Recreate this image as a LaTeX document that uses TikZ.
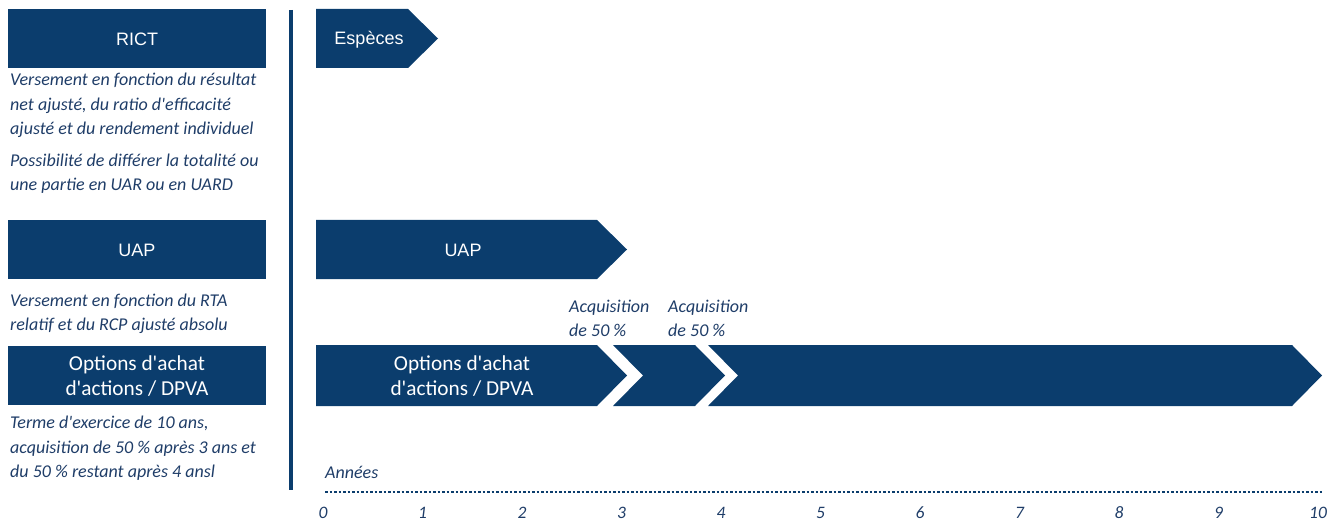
\documentclass[tikz,border=0pt]{standalone}
\usepackage{fontspec}
\setmainfont{Carlito}
\newfontfamily\arialfont{Liberation Sans}
\usetikzlibrary{calc}
\definecolor{barblue}{HTML}{0B3D6D}
\definecolor{noteblue}{HTML}{1F3D68}
\newcommand\apos{\textquotesingle}
\tikzset{
  bar/.style={fill=barblue,draw=none},
  headtext/.style={text=white,font=\arialfont\fontsize{18}{22}\selectfont},
  bartext/.style={text=white,align=center,font=\fontsize{21.3}{25}\selectfont},
  note/.style={text=noteblue,align=left,inner sep=0pt,anchor=base west,
    font=\itshape\fontsize{18}{24.3}\selectfont},
  yeartext/.style={text=noteblue,inner sep=0pt,anchor=base,
    font=\itshape\fontsize{17.5}{20}\selectfont}
}
\begin{document}
\begin{tikzpicture}[x=1pt,y=-1pt]
  \useasboundingbox (0,0) rectangle (1343,521);
  % left column (note nodes sit on the baseline of their last line)
  \draw[bar] (8,9) rectangle (266,68);
  \node[headtext] (rict) at (137,39) {RICT};
  \node[note] (rictnote) at (10,134.5) {Versement en fonction du résultat\\net ajusté, du ratio d\apos efficacité\\ajusté et du rendement individuel};
  \node[note] (rictdefer) at (10,191) {Possibilité de différer la totalité ou\\une partie en UAR ou en UARD};
  \draw[bar] (8,220) rectangle (266,279);
  \node[headtext] (uap) at (137,250) {UAP};
  \node[note] (uapnote) at (10,330.5) {Versement en fonction du RTA\\relatif et du RCP ajusté absolu};
  \draw[bar] (8,346) rectangle (266,405);
  \node[bartext] (opt) at (137,376) {Options d\apos achat\\d\apos actions / DPVA};
  \node[note] (optnote) at (10,477.5) {Terme d\apos exercice de 10 ans,\\acquisition de 50 \% après 3 ans et\\du 50 \% restant après 4 ansl};
  % separator
  \draw[barblue,line width=4pt] (291,10) -- (291,490);
  % timeline arrows
  \draw[bar] (316,9) -- (408,9) -- (438,38.5) -- (408,68) -- (316,68) -- cycle;
  \node[headtext] (cash) at (369,40) {Espèces};
  \draw[bar] (316,220) -- (597,220) -- (627,249.5) -- (597,279) -- (316,279) -- cycle;
  \node[headtext] (uapbar) at (463,250) {UAP};
  \draw[bar] (316,345) -- (597,345) -- (627,375.5) -- (597,406) -- (316,406) -- cycle;
  \draw[bar] (613,345) -- (695,345) -- (725,375.5) -- (695,406) -- (613,406) -- (643,375.5) -- cycle;
  \draw[bar] (708,345) -- (1292,345) -- (1322,375.5) -- (1292,406) -- (708,406) -- (738,375.5) -- cycle;
  \node[bartext] (optbar) at (462,376) {Options d\apos achat\\d\apos actions / DPVA};
  \node[note] (vest1) at (569,336.5) {Acquisition\\de 50 \%};
  \node[note] (vest2) at (668,336.5) {Acquisition\\de 50 \%};
  % years axis
  \node[note] (years) at (325,478) {Années};
  \coordinate (axisstart) at (325,492);
  \coordinate (axisend) at (1322,492);
  \draw[barblue,line width=2.5pt,dash pattern=on 2.5pt off 2pt] (axisstart) -- (axisend);
  \foreach \y in {0,...,10}
    \node[yeartext] (yr\y) at (323+99.5*\y,518) {\y};
\end{tikzpicture}
\end{document}
